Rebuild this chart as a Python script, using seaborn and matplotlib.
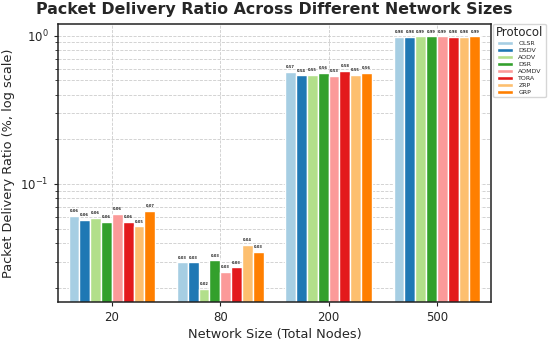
import pandas as pd
import numpy as np
import matplotlib.pyplot as plt
import seaborn as sns

# Network sizes and protocols
sizes = ['20', '80', '200', '500']
protocols = ['OLSR', 'DSDV', 'AODV', 'DSR', 'AOMDV', 'TORA', 'ZRP', 'GRP']

# Packet delivery ratio per protocol (one value per network size)
olsr = [0.061, 0.0296, 0.569, 0.985]
dsdv = [0.057, 0.0296, 0.540, 0.985]
aodv = [0.059, 0.0195, 0.545, 0.988]
dsr = [0.0555, 0.0305, 0.558, 0.988]
aomdv = [0.063, 0.0255, 0.534, 0.988]
tora = [0.0555, 0.0274, 0.577, 0.985]
zrp = [0.0518, 0.0387, 0.546, 0.985]
grp = [0.066, 0.0347, 0.560, 0.988]

series = [olsr, dsdv, aodv, dsr, aomdv, tora, zrp, grp]
rows = []
for p, vals in zip(protocols, series):
    for s, v in zip(sizes, vals):
        rows.append({'Network Size': s, 'Protocol': p, 'PDR': v})
df = pd.DataFrame(rows)

sns.set_style('whitegrid')
plt.rcParams['font.family'] = ['DejaVu Sans']

fig, ax = plt.subplots(figsize=(5.5, 3.42), dpi=100)
fig.subplots_adjust(left=0.105, right=0.893, top=0.93, bottom=0.117)

sns.barplot(data=df, x='Network Size', y='PDR', hue='Protocol', order=sizes,
            hue_order=protocols, palette='Paired', ax=ax, width=0.8, saturation=1)

ax.set_yscale('log')
ax.set_ylim(0.016, 1.2)

for c in ax.containers:
    ax.bar_label(c, fmt='%.2f', fontsize=2.6, fontweight='bold', padding=2)

ax.grid(True, which='both', axis='both', linestyle='--', linewidth=0.6, color='#cccccc')
ax.set_axisbelow(True)
for sp in ax.spines.values():
    sp.set_color('#222222')
    sp.set_linewidth(1.1)
ax.tick_params(axis='both', which='major', labelsize=8.5, length=3, color='#222222', bottom=True, left=True)
ax.tick_params(axis='y', which='minor', length=2, color='#222222', left=True)

ax.set_title('Packet Delivery Ratio Across Different Network Sizes', fontsize=11.4,
             fontweight='bold', pad=7)
ax.set_xlabel('Network Size (Total Nodes)', fontsize=9.3, labelpad=3)
ax.set_ylabel('Packet Delivery Ratio (%, log scale)', fontsize=9.3)

leg = ax.legend(title='Protocol', loc='upper left', bbox_to_anchor=(1.005, 1.0),
                fontsize=4.5, title_fontsize=8.5, frameon=True, borderaxespad=0,
                handlelength=2.6, labelspacing=0.25)

plt.savefig('out.png', dpi=100)
